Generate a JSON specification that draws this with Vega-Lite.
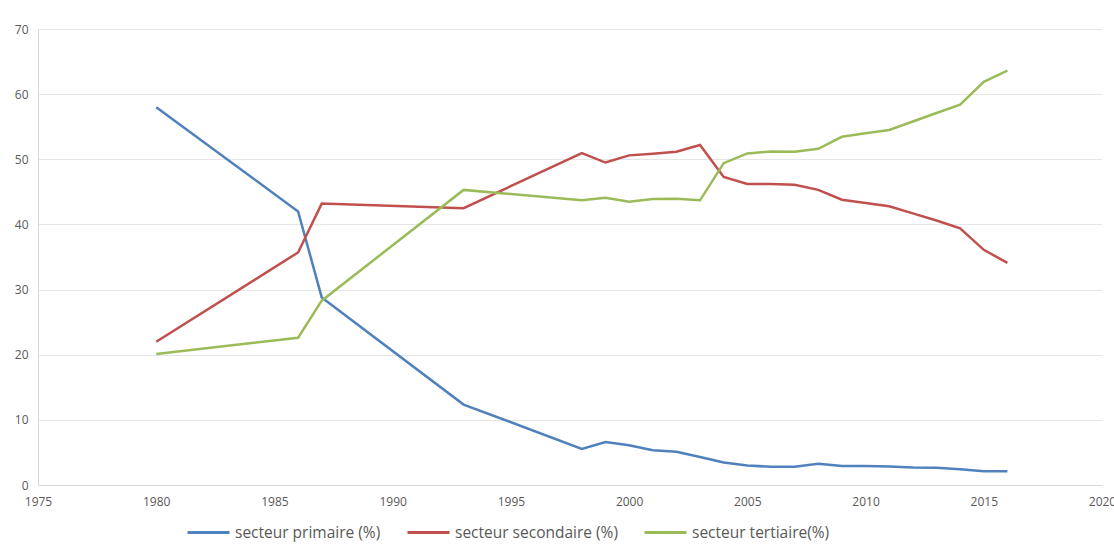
{
  "$schema": "https://vega.github.io/schema/vega-lite/v6.json",
  "width": 1064,
  "height": 456,
  "autosize": {"type": "none"},
  "padding": {"left": 38, "top": 29, "right": 12, "bottom": 59},
  "background": "white",
  "config": {
    "view": {"stroke": null},
    "font": "Open Sans",
    "axis": {"labelFont": "Open Sans", "labelColor": "#595959", "labelFontSize": 12}
  },
  "data": {
    "values": [
      {"annee": 1980, "secteur": "secteur primaire (%)", "valeur": 58.0},
      {"annee": 1986, "secteur": "secteur primaire (%)", "valeur": 42.0},
      {"annee": 1987, "secteur": "secteur primaire (%)", "valeur": 28.8},
      {"annee": 1993, "secteur": "secteur primaire (%)", "valeur": 12.35},
      {"annee": 1998, "secteur": "secteur primaire (%)", "valeur": 5.55},
      {"annee": 1999, "secteur": "secteur primaire (%)", "valeur": 6.6},
      {"annee": 2000, "secteur": "secteur primaire (%)", "valeur": 6.1},
      {"annee": 2001, "secteur": "secteur primaire (%)", "valeur": 5.35},
      {"annee": 2002, "secteur": "secteur primaire (%)", "valeur": 5.1},
      {"annee": 2003, "secteur": "secteur primaire (%)", "valeur": 4.3},
      {"annee": 2004, "secteur": "secteur primaire (%)", "valeur": 3.45},
      {"annee": 2005, "secteur": "secteur primaire (%)", "valeur": 3.0},
      {"annee": 2006, "secteur": "secteur primaire (%)", "valeur": 2.8},
      {"annee": 2007, "secteur": "secteur primaire (%)", "valeur": 2.8},
      {"annee": 2008, "secteur": "secteur primaire (%)", "valeur": 3.25},
      {"annee": 2009, "secteur": "secteur primaire (%)", "valeur": 2.9},
      {"annee": 2010, "secteur": "secteur primaire (%)", "valeur": 2.9},
      {"annee": 2011, "secteur": "secteur primaire (%)", "valeur": 2.85},
      {"annee": 2012, "secteur": "secteur primaire (%)", "valeur": 2.7},
      {"annee": 2013, "secteur": "secteur primaire (%)", "valeur": 2.65},
      {"annee": 2014, "secteur": "secteur primaire (%)", "valeur": 2.4},
      {"annee": 2015, "secteur": "secteur primaire (%)", "valeur": 2.1},
      {"annee": 2016, "secteur": "secteur primaire (%)", "valeur": 2.1},

      {"annee": 1980, "secteur": "secteur secondaire (%)", "valeur": 22.0},
      {"annee": 1986, "secteur": "secteur secondaire (%)", "valeur": 35.7},
      {"annee": 1987, "secteur": "secteur secondaire (%)", "valeur": 43.2},
      {"annee": 1993, "secteur": "secteur secondaire (%)", "valeur": 42.5},
      {"annee": 1998, "secteur": "secteur secondaire (%)", "valeur": 50.95},
      {"annee": 1999, "secteur": "secteur secondaire (%)", "valeur": 49.5},
      {"annee": 2000, "secteur": "secteur secondaire (%)", "valeur": 50.6},
      {"annee": 2001, "secteur": "secteur secondaire (%)", "valeur": 50.85},
      {"annee": 2002, "secteur": "secteur secondaire (%)", "valeur": 51.15},
      {"annee": 2003, "secteur": "secteur secondaire (%)", "valeur": 52.2},
      {"annee": 2004, "secteur": "secteur secondaire (%)", "valeur": 47.3},
      {"annee": 2005, "secteur": "secteur secondaire (%)", "valeur": 46.2},
      {"annee": 2006, "secteur": "secteur secondaire (%)", "valeur": 46.2},
      {"annee": 2007, "secteur": "secteur secondaire (%)", "valeur": 46.1},
      {"annee": 2008, "secteur": "secteur secondaire (%)", "valeur": 45.3},
      {"annee": 2009, "secteur": "secteur secondaire (%)", "valeur": 43.8},
      {"annee": 2010, "secteur": "secteur secondaire (%)", "valeur": 43.3},
      {"annee": 2011, "secteur": "secteur secondaire (%)", "valeur": 42.8},
      {"annee": 2012, "secteur": "secteur secondaire (%)", "valeur": 41.7},
      {"annee": 2013, "secteur": "secteur secondaire (%)", "valeur": 40.6},
      {"annee": 2014, "secteur": "secteur secondaire (%)", "valeur": 39.4},
      {"annee": 2015, "secteur": "secteur secondaire (%)", "valeur": 36.1},
      {"annee": 2016, "secteur": "secteur secondaire (%)", "valeur": 34.1},

      {"annee": 1980, "secteur": "secteur tertiaire(%)", "valeur": 20.1},
      {"annee": 1986, "secteur": "secteur tertiaire(%)", "valeur": 22.6},
      {"annee": 1987, "secteur": "secteur tertiaire(%)", "valeur": 28.3},
      {"annee": 1993, "secteur": "secteur tertiaire(%)", "valeur": 45.3},
      {"annee": 1998, "secteur": "secteur tertiaire(%)", "valeur": 43.7},
      {"annee": 1999, "secteur": "secteur tertiaire(%)", "valeur": 44.1},
      {"annee": 2000, "secteur": "secteur tertiaire(%)", "valeur": 43.5},
      {"annee": 2001, "secteur": "secteur tertiaire(%)", "valeur": 43.9},
      {"annee": 2002, "secteur": "secteur tertiaire(%)", "valeur": 43.95},
      {"annee": 2003, "secteur": "secteur tertiaire(%)", "valeur": 43.7},
      {"annee": 2004, "secteur": "secteur tertiaire(%)", "valeur": 49.4},
      {"annee": 2005, "secteur": "secteur tertiaire(%)", "valeur": 50.9},
      {"annee": 2006, "secteur": "secteur tertiaire(%)", "valeur": 51.2},
      {"annee": 2007, "secteur": "secteur tertiaire(%)", "valeur": 51.15},
      {"annee": 2008, "secteur": "secteur tertiaire(%)", "valeur": 51.6},
      {"annee": 2009, "secteur": "secteur tertiaire(%)", "valeur": 53.45},
      {"annee": 2010, "secteur": "secteur tertiaire(%)", "valeur": 54.0},
      {"annee": 2011, "secteur": "secteur tertiaire(%)", "valeur": 54.5},
      {"annee": 2012, "secteur": "secteur tertiaire(%)", "valeur": 55.8},
      {"annee": 2013, "secteur": "secteur tertiaire(%)", "valeur": 57.1},
      {"annee": 2014, "secteur": "secteur tertiaire(%)", "valeur": 58.4},
      {"annee": 2015, "secteur": "secteur tertiaire(%)", "valeur": 61.9},
      {"annee": 2016, "secteur": "secteur tertiaire(%)", "valeur": 63.6}
    ]
  },
  "mark": {"type": "line", "strokeWidth": 2.5, "interpolate": "linear"},
  "encoding": {
    "x": {
      "field": "annee",
      "type": "quantitative",
      "scale": {"domain": [1975, 2020], "nice": false, "zero": false},
      "axis": {
        "title": null,
        "values": [1975, 1980, 1985, 1990, 1995, 2000, 2005, 2010, 2015, 2020],
        "format": "d",
        "grid": false,
        "ticks": false,
        "domain": true,
        "domainColor": "#D9D9D9",
        "domainWidth": 1,
        "labelPadding": 11,
        "labelFlush": false
      }
    },
    "y": {
      "field": "valeur",
      "type": "quantitative",
      "scale": {"domain": [0, 70], "nice": false},
      "axis": {
        "title": null,
        "values": [0, 10, 20, 30, 40, 50, 60, 70],
        "grid": true,
        "gridColor": "#E6E6E6",
        "gridWidth": 1,
        "ticks": false,
        "domain": true,
        "domainColor": "#D9D9D9",
        "labelPadding": 10
      }
    },
    "color": {
      "field": "secteur",
      "type": "nominal",
      "scale": {
        "domain": ["secteur primaire (%)", "secteur secondaire (%)", "secteur tertiaire(%)"],
        "range": ["#4F81BD", "#C0504D", "#9BBB59"]
      },
      "legend": {
        "title": null,
        "orient": "none",
        "legendX": 148,
        "legendY": 481,
        "direction": "horizontal",
        "symbolType": "stroke",
        "symbolSize": 1764,
        "symbolStrokeWidth": 3,
        "labelFontSize": 15.5,
        "labelFont": "Open Sans",
        "labelColor": "#595959",
        "labelOffset": 4,
        "columnPadding": 20,
        "labelLimit": 300
      }
    }
  }
}
